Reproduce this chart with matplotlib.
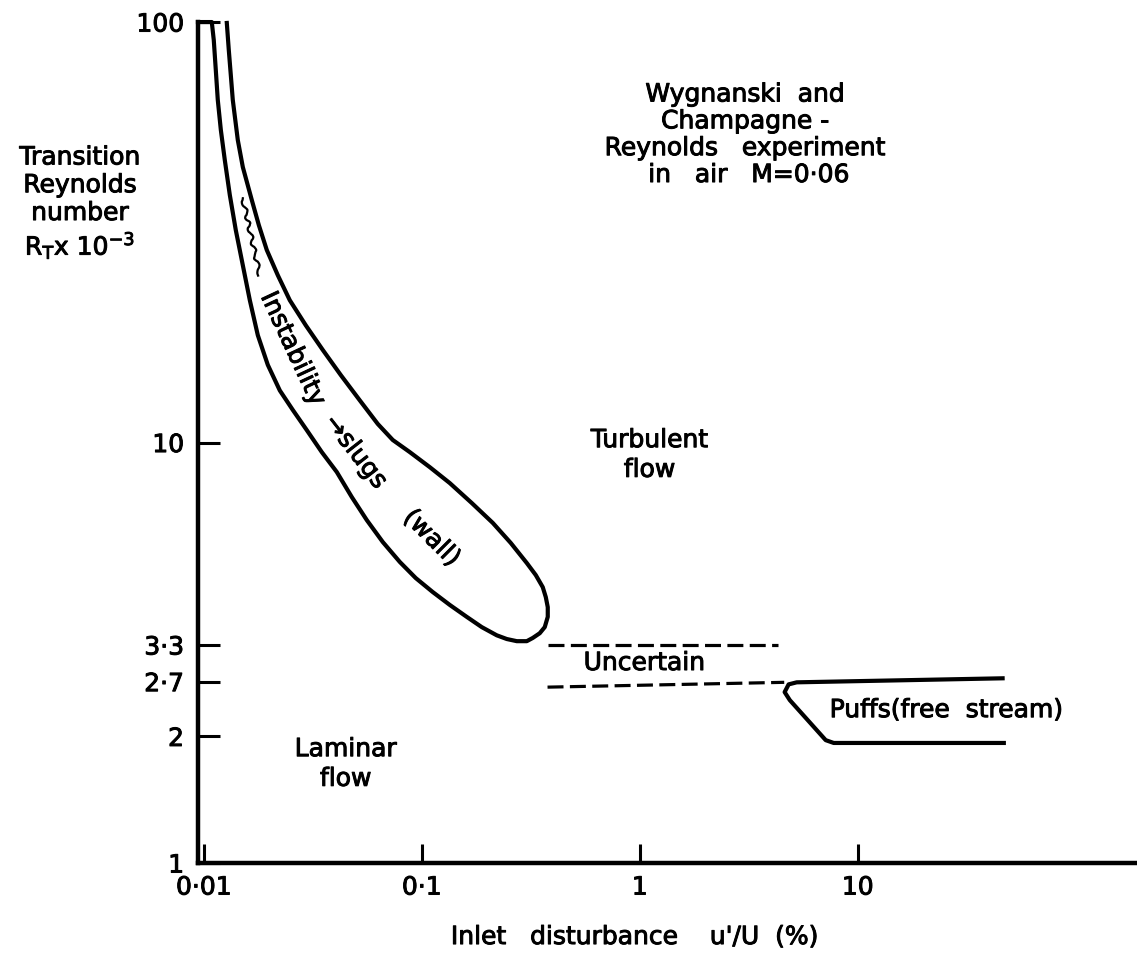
import matplotlib
matplotlib.use("Agg")
import matplotlib.pyplot as plt
import matplotlib.patheffects as pe

plt.rcParams['font.family'] = ['DejaVu Sans']
plt.rcParams['mathtext.fontset'] = 'dejavusans'

# Instability -> slugs band: from the axis top, down the lower edge, round the tip, back up
band_x = [0.0094, 0.01088, 0.01111, 0.01135, 0.01159, 0.01197, 0.01248, 0.01316, 0.01402,
          0.01510, 0.01626, 0.01769, 0.01966, 0.02232, 0.02561, 0.02969, 0.03477, 0.04074,
          0.04774, 0.05594, 0.06623, 0.07929, 0.09387, 0.1123, 0.1344, 0.1608, 0.1884,
          0.2208, 0.2454, 0.2728, 0.3032, 0.3230, 0.3477, 0.3666, 0.3784, 0.3784, 0.3706,
          0.3589, 0.3334, 0.3032, 0.2560, 0.2117, 0.1696, 0.1344, 0.1088, 0.0881,
          0.07362, 0.06284, 0.05195, 0.04250, 0.03515, 0.02937, 0.02480, 0.02185,
          0.01945, 0.01788, 0.01661, 0.01510, 0.01432, 0.01358, 0.01330, 0.01302, 0.01275]
band_y = [100, 100, 90.6, 76.9, 65.3, 55.4, 47.0, 38.8, 32.0,
          26.4, 21.8, 18.0, 15.3, 13.3, 11.95, 10.7, 9.49, 8.51,
          7.42, 6.54, 5.80, 5.20, 4.76, 4.41, 4.11, 3.85, 3.64,
          3.48, 3.41, 3.37, 3.37, 3.43, 3.52, 3.64, 3.85, 4.06, 4.29,
          4.53, 4.84, 5.17, 5.77, 6.44, 7.18, 8.01, 8.74, 9.49,
          10.14, 11.07, 12.6, 14.47, 16.6, 19.0, 21.8, 25.0,
          28.7, 32.9, 37.7, 45.2, 52.4, 65.3, 74.8, 85.8, 99.5]

# wavy mark inside the band
wave_x = [0.0151, 0.01806]
wave_y = [38.1, 25.0]

# uncertain zone limits (dashed)
upper_dash_x = [0.378, 4.30]
upper_dash_y = [3.3, 3.3]
lower_dash_x = [0.3775, 4.6]
lower_dash_y = [2.62, 2.69]

# puffs (free stream) boundary
puff_x = [46.2, 5.25, 4.82, 4.62, 4.88, 7.13, 7.76, 46.8]
puff_y = [2.75, 2.69, 2.66, 2.55, 2.44, 1.96, 1.93, 1.93]

x_ticks = [0.01, 0.1, 1, 10]
x_tick_labels = ['0·01', '0·1', '1', '10']
y_ticks = [1, 2, 2.7, 3.3, 10, 100]
y_tick_labels = ['1', '2', '2·7', '3·3', '10', '100']

heavy = [pe.withStroke(linewidth=0.7, foreground='black')]

fig = plt.figure(figsize=(11.37, 9.55), dpi=100)
ax = fig.add_axes([0.1741, 0.0963, 0.8241, 0.8806])
ax.set_xscale('log')
ax.set_yscale('log')
ax.set_xlim(0.0094, 187)
ax.set_ylim(1, 100)

lw = 3.0
ax.plot(band_x, band_y, color='black', lw=lw, solid_joinstyle='round', clip_on=False)
wave, = ax.plot(wave_x, wave_y, color='black', lw=1.6)
wave.set_sketch_params(scale=2.0, length=16, randomness=2)
ax.plot(upper_dash_x, upper_dash_y, color='black', lw=2.3, dashes=(5, 2))
ax.plot(lower_dash_x, lower_dash_y, color='black', lw=2.3, dashes=(5, 2))
ax.plot(puff_x, puff_y, color='black', lw=lw, solid_joinstyle='round')

for s in ['top', 'right']:
    ax.spines[s].set_visible(False)
for s in ['left', 'bottom']:
    ax.spines[s].set_linewidth(3.2)

fs = 18
ax.set_xticks(x_ticks)
ax.set_xticklabels(x_tick_labels)
ax.set_yticks(y_ticks)
ax.set_yticklabels(y_tick_labels)
ax.minorticks_off()
ax.tick_params(axis='x', direction='in', length=14, width=2.2, pad=9, labelsize=fs)
ax.tick_params(axis='y', direction='in', length=16, width=2.2, pad=10, labelsize=fs)
for lab in ax.get_xticklabels() + ax.get_yticklabels():
    lab.set_path_effects(heavy)

kw = dict(fontsize=fs, path_effects=heavy)
ax.text(1.11, 9.34, 'Turbulent\nflow', ha='center', va='center', linespacing=1.3, **kw)
ax.text(0.0448, 1.72, 'Laminar\nflow', ha='center', va='center', linespacing=1.3, **kw)
ax.text(1.05, 2.99, 'Uncertain', ha='center', va='center', **kw)
ax.text(25.6, 2.31, 'Puffs(free  stream)', ha='center', va='center', **kw)

ax.text(0.0256, 16.7, 'Instability', rotation=-65, ha='center', va='center',
        rotation_mode='anchor', **kw)
ax.text(0.0498, 9.49, '→slugs', rotation=-52, ha='center', va='center',
        rotation_mode='anchor', **kw)
ax.text(0.111, 5.93, '(wall)', rotation=-45, ha='center', va='center',
        rotation_mode='anchor', **kw)

ax.text(0.584, 0.866, 'Wygnanski  and\nChampagne -\nReynolds   experiment\n in   air   M=0·06',
        transform=ax.transAxes, ha='center', va='center', linespacing=1.15, **kw)

fig.text(0.0704, 0.787, 'Transition\nReynolds\nnumber\n' + r'R$_{\rm T}$x 10$^{-3}$',
         ha='center', va='center', linespacing=1.2, **kw)
fig.text(0.5585, 0.0188, "Inlet   disturbance    u'/U  (%)", ha='center', va='center', **kw)

fig.savefig('out.png', dpi=100)
